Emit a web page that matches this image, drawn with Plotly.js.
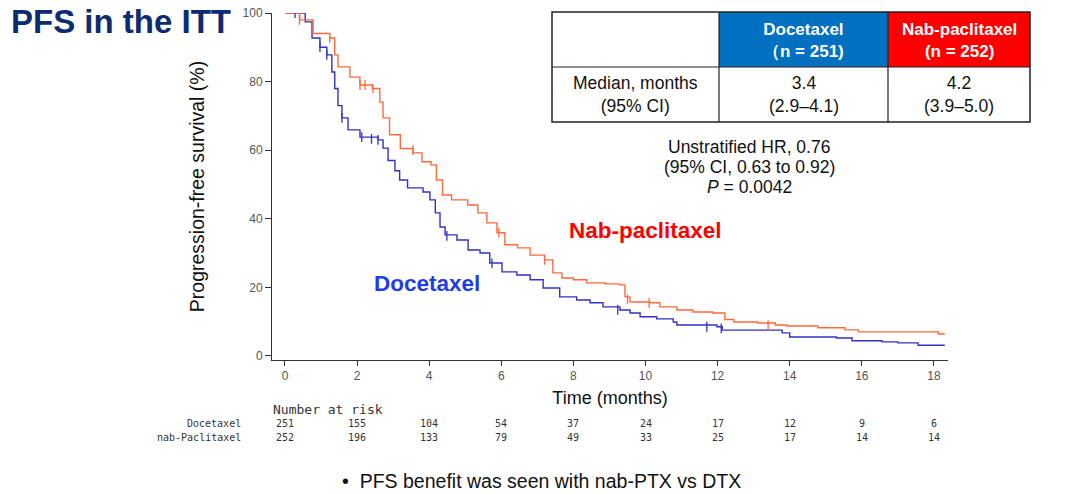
<!DOCTYPE html>
<html>
<head>
<meta charset="utf-8">
<script src="https://cdn.plot.ly/plotly-3.0.1.min.js"></script>
<style>html,body{margin:0;padding:0;background:#fff;}#chart{width:1080px;height:494px;}</style>
</head>
<body>
<div id="chart"></div>
<script>
// ---- Data ----
const nabTime = [0, 0.41, 0.78, 1.24, 1.38, 1.47, 1.8, 2.08, 2.42, 2.63, 2.72, 2.9, 3.2, 3.55, 3.8, 4.05, 4.2, 4.37, 4.62, 5.07, 5.35, 5.6, 5.88, 6.1, 6.45, 6.8, 7.2, 7.43, 7.68, 8.0, 8.37, 8.88, 9.29, 9.43, 9.57, 10.12, 10.4, 10.87, 11.31, 11.87, 12.2, 12.45, 13.12, 13.6, 13.92, 14.78, 15.53, 15.9, 18.12, 18.3];
const nabPFS  = [100, 98, 94, 92.7, 87.8, 84.3, 81.3, 79, 78, 74, 69.4, 64.5, 60.5, 59.2, 56.6, 55.7, 51.3, 46.9, 45.5, 44, 41.7, 38.8, 35.9, 32.4, 31.5, 29.4, 28, 24.2, 22.7, 22.2, 21.3, 21, 20.7, 17.2, 15.7, 15.5, 14.3, 13.4, 12.8, 12.5, 10.6, 9.9, 9.6, 9.0, 8.7, 8.2, 7.6, 7.0, 6.4, 6.4];
const docTime = [0, 0.27, 0.56, 0.75, 0.97, 1.16, 1.3, 1.38, 1.47, 1.58, 1.75, 2.08, 2.58, 2.72, 2.86, 3.05, 3.18, 3.4, 3.83, 4.02, 4.17, 4.3, 4.44, 4.77, 5.08, 5.41, 5.68, 6.02, 6.43, 6.8, 7.16, 7.62, 8.09, 8.46, 8.82, 9.29, 9.57, 9.85, 10.31, 10.77, 10.87, 11.98, 12.13, 13.79, 14.0, 15.3, 15.73, 16.56, 17.0, 17.56, 18.3];
const docPFS  = [100, 100, 97.4, 92.7, 90, 87.8, 82.8, 78, 73, 69.4, 65.9, 63.8, 63, 60.6, 57, 54, 51.3, 49, 47.8, 45.5, 41.7, 37.6, 35.3, 33.8, 30.9, 30, 27.1, 24.5, 23.6, 22.2, 19.8, 17.2, 16.3, 15.5, 14.3, 13.4, 12.5, 11.4, 10.8, 9.9, 9.0, 8.5, 7.5, 6.7, 5.5, 5.2, 4.4, 4.1, 3.8, 3.1, 3.1];
const nabCensorTime = [0.4, 1.24, 2.08, 2.22, 2.44, 3.55, 5.93, 7.2, 9.5, 10.1, 13.4];
const nabCensorPFS  = [98, 92.7, 79, 79, 78, 60, 36, 28, 16.5, 15.5, 9.0];
const docCensorTime = [0.28, 0.97, 1.16, 1.58, 2.13, 2.4, 2.58, 4.49, 5.74, 9.23, 11.7, 12.1];
const docCensorPFS  = [100, 90, 87.8, 69.4, 63.8, 63.3, 63, 35, 27, 13.4, 8.5, 8];

const riskTimes = [0, 2, 4, 6, 8, 10, 12, 14, 16, 18];
const riskDoc = [251, 155, 104, 54, 37, 24, 17, 12, 9, 6];
const riskNab = [252, 196, 133, 79, 49, 33, 25, 17, 14, 14];
const riskLabels = ["Docetaxel", "nab-Paclitaxel"];

const tableHeader = ["", "Docetaxel<br>（n = 251)", "Nab-paclitaxel<br>(n = 252)"];
const tableRow = ["Median, months<br>(95% CI)", "3.4<br>(2.9–4.1)", "4.2<br>(3.9–5.0)"];
const hrText = ["Unstratified HR, 0.76", "(95% CI, 0.63 to 0.92)", "<i>P</i> = 0.0042"];

// ---- Styles ----
const ORANGE = "#ff6a3a";
const BLUE = "#3131c8";
const FONT = "Liberation Sans, Arial, sans-serif";
const MONO = "DejaVu Sans Mono, Liberation Mono, monospace";

// pixel -> paper helpers (plot area: left 272, right 948, top 13, bottom 360)
const L = 272, R = 948, T = 13, B = 360, W = R - L, H = B - T;
const PX = p => (p - L) / W;
const PY = p => (B - p) / H;

const traces = [
  {x: docTime, y: docPFS, mode: "lines", line: {shape: "hv", color: BLUE, width: 1.4}, name: "Docetaxel", showlegend: false, hoverinfo: "x+y"},
  {x: nabTime, y: nabPFS, mode: "lines", line: {shape: "hv", color: ORANGE, width: 1.4}, name: "Nab-paclitaxel", showlegend: false, hoverinfo: "x+y"},
  {x: docCensorTime, y: docCensorPFS, mode: "markers", marker: {symbol: "line-ns", size: 7, line: {width: 1.3, color: BLUE}, color: BLUE}, showlegend: false, hoverinfo: "skip"},
  {x: nabCensorTime, y: nabCensorPFS, mode: "markers", marker: {symbol: "line-ns", size: 7, line: {width: 1.3, color: ORANGE}, color: ORANGE}, showlegend: false, hoverinfo: "skip"}
];

const ann = [];
const shapes = [];

// Table
const colX = [552, 719, 888, 1030];
const rowY = [12, 67, 122];
const headFill = [null, "#0070c0", "#ff0000"];
for (let c = 0; c < 3; c++) {
  if (headFill[c]) {
    shapes.push({type: "rect", xref: "paper", yref: "paper", x0: PX(colX[c]), x1: PX(colX[c + 1]), y0: PY(rowY[1]), y1: PY(rowY[0]), fillcolor: headFill[c], line: {width: 0}, layer: "above"});
  }
  const cx = PX((colX[c] + colX[c + 1]) / 2);
  ann.push({xref: "paper", yref: "paper", x: cx, y: PY((rowY[0] + rowY[1]) / 2 + 1), text: "<b>" + tableHeader[c] + "</b>", showarrow: false, font: {family: FONT, size: 17, color: "#ffffff"}, xanchor: "center", yanchor: "middle"});
  ann.push({xref: "paper", yref: "paper", x: cx, y: PY((rowY[1] + rowY[2]) / 2), text: tableRow[c], showarrow: false, font: {family: FONT, size: 17.5, color: "#111"}, xanchor: "center", yanchor: "middle"});
}
shapes.push({type: "rect", xref: "paper", yref: "paper", x0: PX(colX[0]), x1: PX(colX[3]), y0: PY(rowY[2]), y1: PY(rowY[0]), line: {color: "#222", width: 1.5}, layer: "above"});
shapes.push({type: "line", xref: "paper", yref: "paper", x0: PX(colX[0]), x1: PX(colX[3]), y0: PY(rowY[1]), y1: PY(rowY[1]), line: {color: "#222", width: 1.2}, layer: "above"});
shapes.push({type: "line", xref: "paper", yref: "paper", x0: PX(colX[1]), x1: PX(colX[1]), y0: PY(rowY[2]), y1: PY(rowY[0]), line: {color: "#222", width: 1.2}, layer: "above"});
shapes.push({type: "line", xref: "paper", yref: "paper", x0: PX(colX[2]), x1: PX(colX[2]), y0: PY(rowY[2]), y1: PY(rowY[0]), line: {color: "#222", width: 1.2}, layer: "above"});

// HR text
const hrY = [147, 167, 187];
hrText.forEach((t, i) => ann.push({xref: "paper", yref: "paper", x: PX(749), y: PY(hrY[i]), text: t, showarrow: false, font: {family: FONT, size: 17.5, color: "#111"}, xanchor: "center", yanchor: "middle"}));

// Curve labels
ann.push({xref: "paper", yref: "paper", x: PX(645), y: PY(231), text: "<b>Nab-paclitaxel</b>", showarrow: false, font: {family: FONT, size: 22.5, color: "#ff0000"}, xanchor: "center", yanchor: "middle"});
ann.push({xref: "paper", yref: "paper", x: PX(427), y: PY(283), text: "<b>Docetaxel</b>", showarrow: false, font: {family: FONT, size: 22.5, color: "#1f3de6"}, xanchor: "center", yanchor: "middle"});

// Number at risk
ann.push({xref: "paper", yref: "paper", x: PX(271), y: PY(409), text: "Number at risk", showarrow: false, font: {family: MONO, size: 13, color: "#333"}, xanchor: "left", yanchor: "middle"});
const riskRows = [riskDoc, riskNab];
const riskY = [423, 437];
riskRows.forEach((row, r) => {
  ann.push({xref: "paper", yref: "paper", x: PX(243), y: PY(riskY[r]), text: riskLabels[r], showarrow: false, font: {family: MONO, size: 10, color: "#333"}, xanchor: "right", yanchor: "middle"});
  row.forEach((v, i) => ann.push({xref: "x", yref: "paper", x: riskTimes[i], y: PY(riskY[r]), text: String(v), showarrow: false, font: {family: MONO, size: 10, color: "#333"}, xanchor: "center", yanchor: "middle"}));
});

// Bullet
ann.push({xref: "paper", yref: "paper", x: PX(340), y: PY(481), text: "•  PFS benefit was seen with nab-PTX vs DTX", showarrow: false, font: {family: FONT, size: 19.5, color: "#111"}, xanchor: "left", yanchor: "middle"});

const layout = {
  width: 1080, height: 494,
  margin: {l: L, r: 1080 - R, t: T, b: 494 - B, pad: 0},
  paper_bgcolor: "#ffffff", plot_bgcolor: "#ffffff",
  font: {family: FONT},
  title: {text: "<b>PFS in the ITT</b>", x: 11 / 1080, xref: "container", xanchor: "left", y: 1 - 21 / 494, yref: "container", yanchor: "middle", font: {family: FONT, size: 33, color: "#0d2b6e"}},
  xaxis: {range: [-0.36, 18.39], tickvals: riskTimes, ticks: "outside", ticklen: 5, tickcolor: "#333", showline: true, linecolor: "#333", linewidth: 1, showgrid: false, zeroline: false,
          tickfont: {family: FONT, size: 12, color: "#555"},
          title: {text: "Time (months)", font: {family: FONT, size: 18, color: "#111"}, standoff: 8}},
  yaxis: {range: [-1.2, 100], tickvals: [0, 20, 40, 60, 80, 100], ticks: "outside", ticklen: 6, tickcolor: "#333", showline: true, linecolor: "#333", linewidth: 1, showgrid: false, zeroline: false,
          tickfont: {family: FONT, size: 12, color: "#555"},
          title: {text: "Progression-free survival (%)", font: {family: FONT, size: 19.5, color: "#111"}, standoff: 32}},
  annotations: ann,
  shapes: shapes,
  showlegend: false
};

Plotly.newPlot("chart", traces, layout, {displayModeBar: false, staticPlot: true});
</script>
</body>
</html>
